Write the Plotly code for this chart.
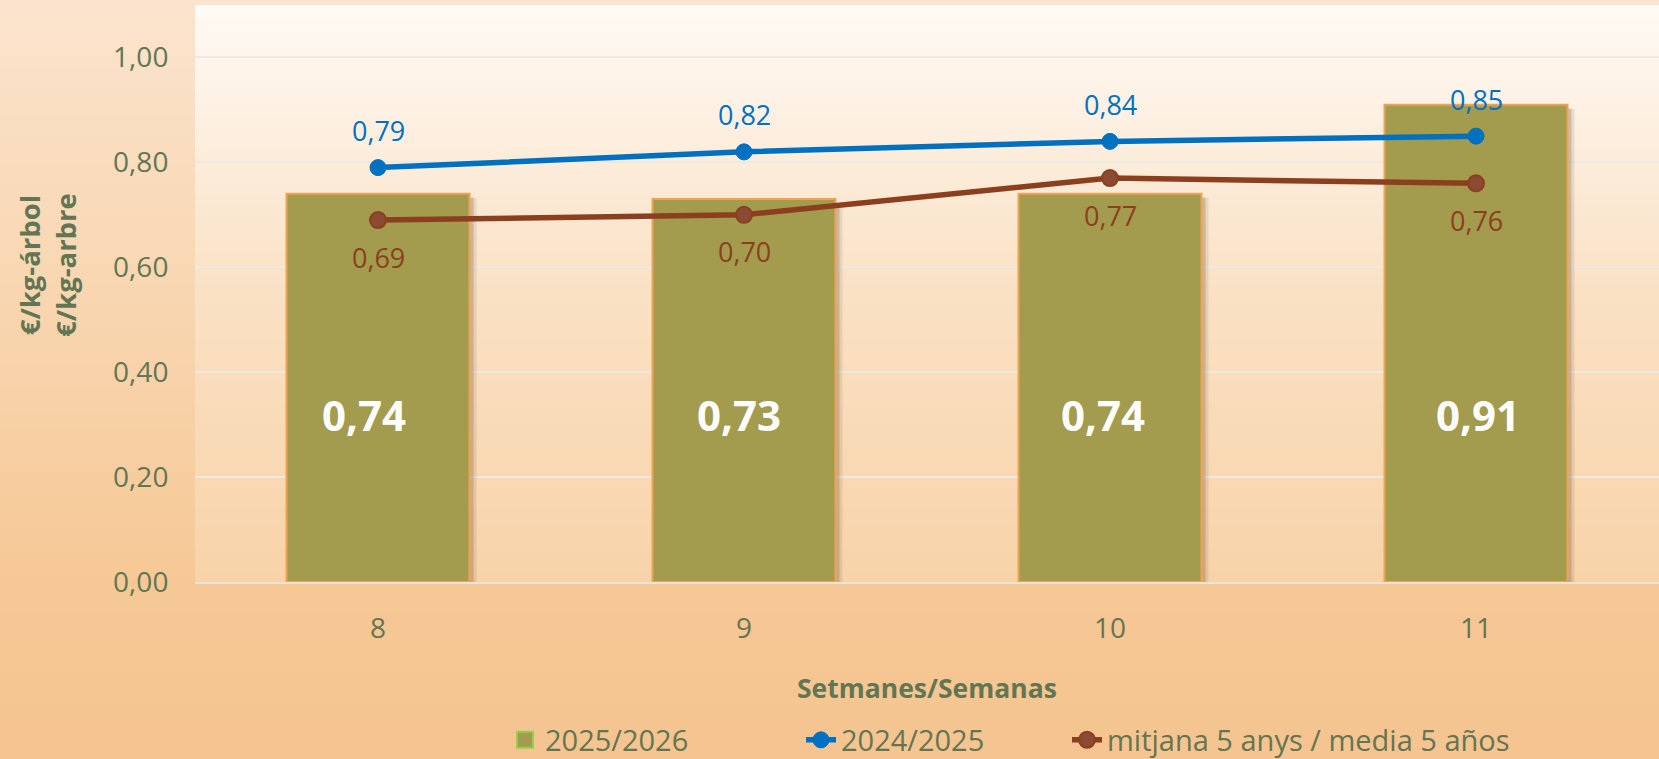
import base64, struct, zlib
import plotly.graph_objects as go

weeks = ["8", "9", "10", "11"]
season_2025_26 = [0.74, 0.73, 0.74, 0.91]
season_2024_25 = [0.79, 0.82, 0.84, 0.85]
avg_5_years = [0.69, 0.70, 0.77, 0.76]
y_ticks = [0.0, 0.2, 0.4, 0.6, 0.8, 1.0]

# style: horizontal nudges (px) of the big in-bar labels, as in the reference
bar_label_xshift = [-14, -5, -7, 2]

W, H = 1659, 759
ML, MR, MT, MB = 195, 0, 5, 177
PW, PH = W - ML - MR, H - MT - MB
Y_MAX = 1.1
CAT_PX = PW / len(weeks)
BAR_W = 0.5

FONT = "Open Sans"
TXT = "#627653"
BLUE = "#0070C0"
BROWN = "#8C3F1E"
BAR = "#A39B4E"


def fmt(v):
    return f"{v:.2f}".replace(".", ",")


def px_x(p):
    return (p - ML) / PW


def px_y(p):
    return (H - MB - p) / PH


def png_gradient(stops, n=160):
    def col(t):
        for (t0, c0), (t1, c1) in zip(stops[:-1], stops[1:]):
            if t0 <= t <= t1:
                f = 0 if t1 == t0 else (t - t0) / (t1 - t0)
                return bytes(int(round(a + (b - a) * f)) for a, b in zip(c0, c1))
        return bytes(stops[-1][1])
    raw = b"".join(b"\x00" + col(i / (n - 1)) * 2 for i in range(n))

    def chunk(tp, data):
        return struct.pack(">I", len(data)) + tp + data + struct.pack(">I", zlib.crc32(tp + data) & 0xffffffff)
    png = (b"\x89PNG\r\n\x1a\n" + chunk(b"IHDR", struct.pack(">IIBBBBB", 2, n, 8, 2, 0, 0, 0))
           + chunk(b"IDAT", zlib.compress(raw, 9)) + chunk(b"IEND", b""))
    return "data:image/png;base64," + base64.b64encode(png).decode()


paper_img = png_gradient([(0, (251, 228, 205)), (0.78, (246, 200, 149)), (1, (245, 196, 144))])
plot_img = png_gradient([(0, (255, 250, 245)), (0.5, (250, 225, 196)), (1, (248, 211, 169))])

fig = go.Figure()
# soft drop shadow of the bars (same values, nudged a few pixels right/down)
shadow_dy = 4 * Y_MAX / PH
for dx, alpha in ((7, 0.10), (4, 0.18)):
    fig.add_trace(go.Bar(x=weeks, y=[v - shadow_dy for v in season_2025_26], width=BAR_W,
                         offset=-BAR_W / 2 + dx / CAT_PX, showlegend=False, hoverinfo="skip",
                         marker=dict(color=f"rgba(70,50,20,{alpha})", line=dict(width=0))))
fig.add_trace(go.Bar(x=weeks, y=season_2025_26, width=BAR_W, showlegend=False,
                     marker=dict(color=BAR, line=dict(color="#EFA352", width=2)),
                     hoverinfo="skip"))
fig.add_trace(go.Scatter(x=[None], y=[None], mode="markers", name="2025/2026", legend="legend",
                         marker=dict(symbol="square", size=22, color=BAR,
                                     line=dict(color="#92D050", width=2))))
fig.add_trace(go.Scatter(x=weeks, y=season_2024_25, mode="lines+markers", name="2024/2025",
                         legend="legend2",
                         line=dict(color=BLUE, width=5.5),
                         marker=dict(size=16, color=BLUE, line=dict(color=BLUE, width=1))))
fig.add_trace(go.Scatter(x=weeks, y=avg_5_years, mode="lines+markers",
                         name="mitjana 5 anys / media 5 años", legend="legend3",
                         line=dict(color=BROWN, width=5.5),
                         marker=dict(size=16, color="#8B4A33", line=dict(color=BROWN, width=2))))

ann = []
for i, v in enumerate(season_2025_26):
    ann.append(dict(x=i, y=0.32, xshift=bar_label_xshift[i], text=f"<b>{fmt(v)}</b>",
                    showarrow=False, font=dict(family=FONT, size=42, color="white")))
for i, v in enumerate(season_2024_25):
    ann.append(dict(x=i, y=v, yshift=37, text=fmt(v), showarrow=False,
                    font=dict(family=FONT, size=27, color=BLUE)))
for i, v in enumerate(avg_5_years):
    ann.append(dict(x=i, y=v, yshift=-37, text=fmt(v), showarrow=False,
                    font=dict(family=FONT, size=27, color=BROWN)))
ann.append(dict(xref="paper", yref="paper", x=px_x(47), y=px_y(265),
                text="<b>€/kg-árbol<br>€/kg-arbre</b>", textangle=-90, showarrow=False,
                xanchor="center", yanchor="middle",
                font=dict(family=FONT, size=27.5, color=TXT)))
ann.append(dict(xref="paper", yref="paper", x=0.5, y=px_y(688),
                text="<b>Setmanes/Semanas</b>", showarrow=False, xanchor="center", yanchor="middle",
                font=dict(family=FONT, size=26.5, color=TXT)))


def leg(x_px):
    return dict(orientation="h", x=px_x(x_px), xanchor="left", y=px_y(740), yanchor="middle",
                font=dict(family=FONT, size=29, color=TXT), bgcolor="rgba(0,0,0,0)")


fig.update_layout(
    width=W, height=H, margin=dict(l=ML, r=MR, t=MT, b=MB, autoexpand=False),
    paper_bgcolor="#F6C793", plot_bgcolor="rgba(0,0,0,0)",
    separators=",.", barmode="overlay",
    font=dict(family=FONT, color=TXT),
    annotations=ann,
    images=[
        dict(source=paper_img, xref="paper", yref="paper", x=-ML / PW, y=1 + MT / PH,
             sizex=W / PW, sizey=H / PH, sizing="stretch", xanchor="left", yanchor="top",
             layer="below"),
        dict(source=plot_img, xref="paper", yref="paper", x=0, y=1, sizex=1, sizey=1,
             sizing="stretch", xanchor="left", yanchor="top", layer="below"),
    ],
    legend=leg(505),
    legend2=leg(801),
    legend3=leg(1067),
    xaxis=dict(type="category", range=[-0.5, 3.5], showgrid=False, zeroline=False,
               showline=True, linecolor="#E9E4DA", linewidth=2,
               ticks="outside", ticklen=20, tickcolor="rgba(0,0,0,0)",
               tickfont=dict(family=FONT, size=28, color=TXT)),
    yaxis=dict(range=[0, Y_MAX], tickvals=y_ticks, tickformat=".2f",
               showgrid=True, gridcolor="#EEE9E1", gridwidth=2, zeroline=False,
               ticks="outside", ticklen=20, tickcolor="rgba(0,0,0,0)",
               tickfont=dict(family=FONT, size=28, color=TXT)),
)

fig.write_html("out.html", config={"displayModeBar": False},
               post_script="document.body.style.margin='0';")
